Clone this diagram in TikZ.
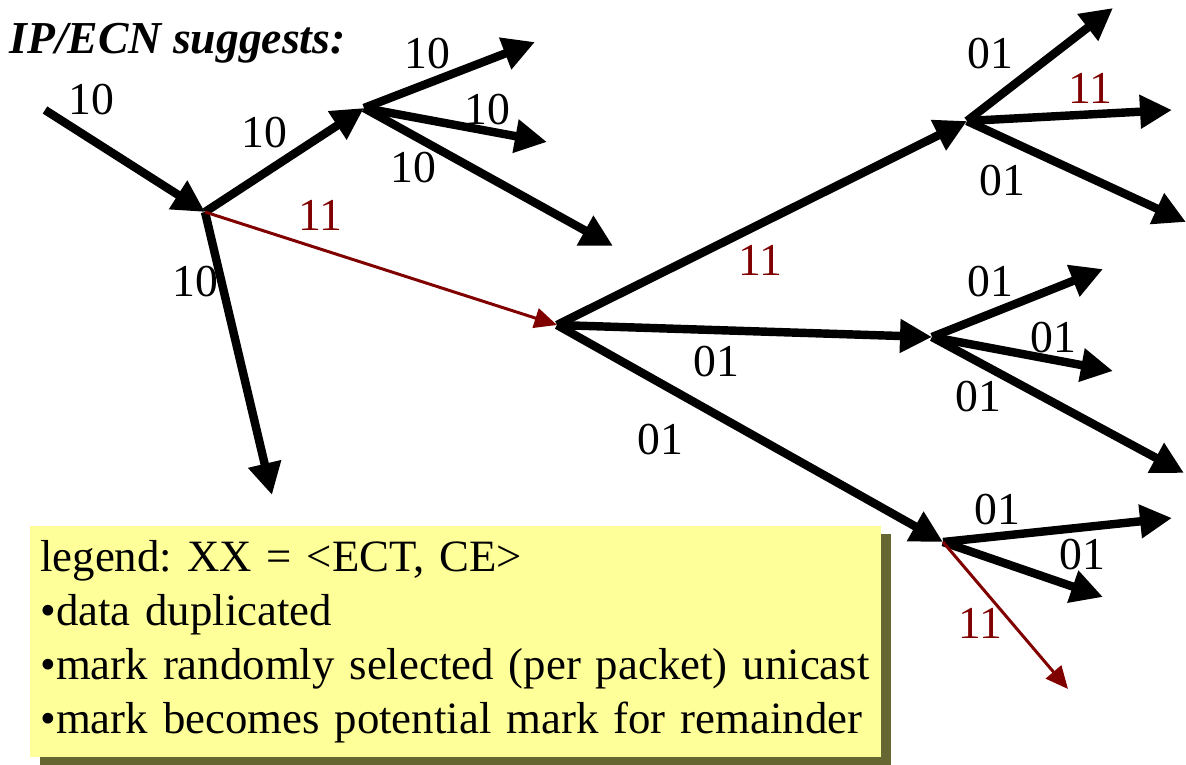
\documentclass[tikz,border=0pt]{standalone}
\usepackage{fontspec}
\setmainfont{Liberation Serif}
\usetikzlibrary{arrows.meta,shadows}
\definecolor{ecnred}{RGB}{128,0,0}
\definecolor{legfill}{RGB}{255,255,153}
\definecolor{legshade}{RGB}{102,102,51}
\frenchspacing
\begin{document}
\begin{tikzpicture}[x=0.02cm, y=-0.02cm, font=\fontsize{26}{30.7}\selectfont, line join=round,
		flow/.style={line width=4.8pt, -{Triangle[length=0.64cm,width=0.64cm]}},
		ecnflow/.style={ecnred, line width=1.7pt, -{Triangle[length=0.45cm,width=0.4cm]}},
		lbl/.style={inner sep=0pt},
		celbl/.style={inner sep=0pt, text=ecnred}]
			\useasboundingbox (0,0) rectangle (1186,764);
			% routers
			\coordinate (src) at (45,110);
			\coordinate (r1) at (205,212);
			\coordinate (r2) at (364,108);
			\coordinate (r3) at (557,325);
			\coordinate (r4) at (967,121);
			\coordinate (r5) at (932,337);
			\coordinate (r6) at (943,542);
			% receivers
			\coordinate (d1) at (272,495);
			\coordinate (r2a) at (535,42);  \coordinate (r2b) at (547,142); \coordinate (r2c) at (613,246);
			\coordinate (r4a) at (1113,8);  \coordinate (r4b) at (1172,110); \coordinate (r4c) at (1186,222);
			\coordinate (r5a) at (1103,269); \coordinate (r5b) at (1113,371); \coordinate (r5c) at (1184,473);
			\coordinate (r6a) at (1172,518); \coordinate (r6b) at (1103,597); \coordinate (r6c) at (1068,689);
			\draw[flow] (src)--(r1);
			\draw[flow] (r1)--(r2);
			\draw[flow] (r1)--(d1);
			\foreach \t in {r2a,r2b,r2c}\draw[flow] (r2)--(\t);
			\draw[ecnflow] (r1)--(r3);
			\foreach \t in {r4,r5,r6}\draw[flow] (r3)--(\t);
			\foreach \t in {r4a,r4b,r4c}\draw[flow] (r4)--(\t);
			\foreach \t in {r5a,r5b,r5c}\draw[flow] (r5)--(\t);
			\foreach \t in {r6a,r6b}\draw[flow] (r6)--(\t);
			\draw[ecnflow] (r6)--(r6c);
			% codepoints
			\node[lbl] (l1) at (91,100) {10};
			\node[lbl] (l2) at (264,133) {10};
			\node[lbl] (l3) at (427,54) {10};
			\node[lbl] (l4) at (487,110) {10};
			\node[lbl] (l5) at (413,168) {10};
			\node[lbl] (l6) at (195,282) {10};
			\node[celbl] (l7) at (320,215) {11};
			\node[celbl] (l8) at (760,260) {11};
			\node[lbl] (l9) at (716,362) {01};
			\node[lbl] (l10) at (660,440) {01};
			\node[lbl] (l11) at (990,54) {01};
			\node[celbl] (l12) at (1090,88) {11};
			\node[lbl] (l13) at (1002,181) {01};
			\node[lbl] (l14) at (990,282) {01};
			\node[lbl] (l15) at (1053,338) {01};
			\node[lbl] (l16) at (978,397) {01};
			\node[lbl] (l17) at (997,510) {01};
			\node[lbl] (l18) at (1082,555) {01};
			\node[celbl] (l19) at (980,623) {11};
			\node[lbl, anchor=base west] (title) at (9,53) {\bfseries\itshape IP/ECN suggests:};
			\node[anchor=north west, fill=legfill, minimum width=17.02cm, minimum height=4.62cm,
				inner xsep=0.2cm, align=left, text width=16.62cm,
				font=\fontsize{25.5}{30.7}\selectfont,
				drop shadow={shadow xshift=0.2cm, shadow yshift=-0.16cm, fill=legshade, opacity=1}] (legend) at (30,526)
				{legend: XX = <ECT, CE>\\•data duplicated\\•mark randomly selected (per packet) unicast\\•mark becomes potential mark for remainder};
		\end{tikzpicture}
\end{document}
